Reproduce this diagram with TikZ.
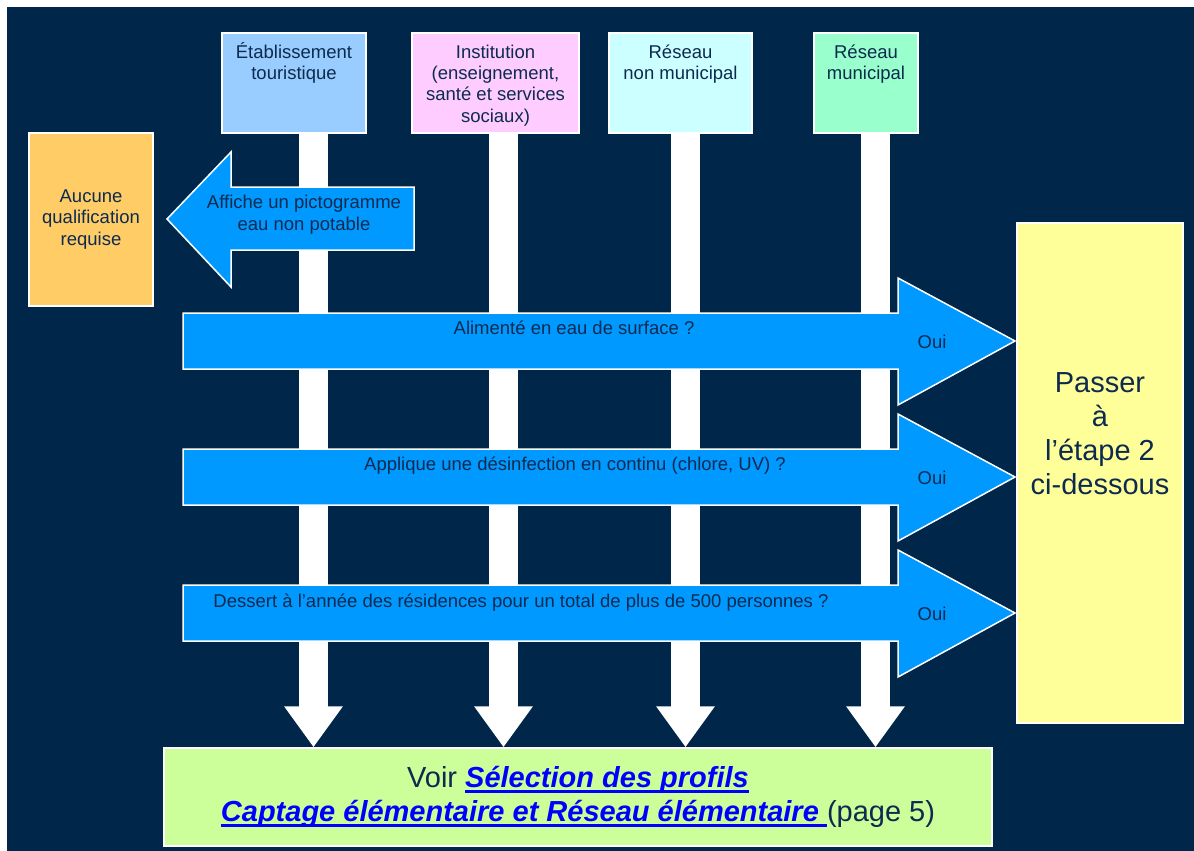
\documentclass[tikz,border=0pt]{standalone}
\usepackage{fontspec}
\setmainfont{Liberation Sans}
\usepackage{xcolor}
\usepackage{tikz}
\usetikzlibrary{arrows.meta,positioning,calc}
\definecolor{fond}{HTML}{00264A}
\definecolor{encre}{HTML}{0D2A4F}
\definecolor{bleufl}{HTML}{0099FF}
\definecolor{tourbg}{HTML}{99CCFF}
\definecolor{instbg}{HTML}{FFCCFF}
\definecolor{nonmunbg}{HTML}{CCFFFF}
\definecolor{munbg}{HTML}{99FFCC}
\definecolor{orangebg}{HTML}{FFCC66}
\definecolor{jaunebg}{HTML}{FFFF99}
\definecolor{vertbg}{HTML}{CCFF99}
\definecolor{lien}{HTML}{0000FF}
% lien souligne (gras italique bleu)
\newcommand{\lienvoir}[1]{{\color{lien}\bfseries\itshape\setbox0=\hbox{#1}\rlap{\rule[-5pt]{\wd0}{2.6pt}}\box0}}

\begin{document}
\begin{tikzpicture}[x=1pt,y=-1pt,
  boite/.style={draw=white,line width=1.5pt,inner sep=0pt},
  txt/.style={font=\fontsize{18.5}{21.3}\selectfont,text=encre,align=center,
              inner sep=0pt,anchor=base},
  grand/.style={font=\fontsize{29}{34}\selectfont,text=encre,align=center,inner sep=0pt},
  bar/.style={white,line width=29pt,-{Triangle[length=41pt 0 0,width=56pt 0 0]}},
  fl/.style={fill=bleufl,draw=white,line width=1.5pt,line join=miter}]
\useasboundingbox (0,0) rectangle (1194,851);
\fill[white] (0,0) rectangle (1194,851);
\fill[fond] (7,7) rectangle (1194,851);
% categories (base = derniere ligne)
\node[boite,fill=tourbg,minimum width=144pt,minimum height=100pt] (tour) at (294,83) {};
\node[boite,fill=instbg,minimum width=167pt,minimum height=100pt] (inst) at (495.5,83) {};
\node[boite,fill=nonmunbg,minimum width=143pt,minimum height=100pt] (nonmun) at (680.5,83) {};
\node[boite,fill=munbg,minimum width=104pt,minimum height=100pt] (mun) at (866,83) {};
\node[txt] (tourt) at (294,79.3) {Établissement\\touristique};
\node[txt] (instt) at (495.5,122) {Institution\\(enseignement,\\santé et services\\sociaux)};
\node[txt] (nonmunt) at (680.5,79.3) {Réseau\\non municipal};
\node[txt] (munt) at (866,79.3) {Réseau\\municipal};
% issues
\node[boite,fill=orangebg,minimum width=124pt,minimum height=173pt,
      font=\fontsize{18.5}{21.3}\selectfont,text=encre,align=center] (aucune) at (91,219.5)
      {Aucune\\qualification\\requise};
\node[boite,fill=jaunebg,minimum width=166pt,minimum height=500pt] (etape) at (1100,473) {};
\node[grand,anchor=base,font=\fontsize{29}{33.7}\selectfont] (etapet) at (1100,494)
      {Passer\\à\\l’étape 2\\ci-dessous};
\node[boite,grand,fill=vertbg,minimum width=828pt,minimum height=98pt] (voir) at (578,797)
      {Voir \lienvoir{Sélection des profils}\\
       \lienvoir{Captage élémentaire et Réseau élémentaire }(page 5)};
% fleches blanches
\coordinate (b1) at ([xshift=19.5pt]tour.south);
\coordinate (b2) at ([xshift=8pt]inst.south);
\coordinate (b3) at ([xshift=5pt]nonmun.south);
\coordinate (b4) at ([xshift=9.5pt]mun.south);
\draw[bar] (b1) -- (b1 |- voir.north);
\draw[bar] (b2) -- (b2 |- voir.north);
\draw[bar] (b3) -- (b3 |- voir.north);
\draw[bar] (b4) -- (b4 |- voir.north);
% fleches bleues
\draw[fl] (414,187) -- (231,187) -- (231,152) -- (167,219) -- (231,287) -- (231,250) -- (414,250) -- cycle;
\node[txt] (picto) at (304,230) {Affiche un pictogramme\\eau non potable};
\draw[fl] (183,313) -- (898,313) -- (898,278) -- (1015,341) -- (898,405) -- (898,369) -- (183,369) -- cycle;
\draw[fl] (183,449) -- (898,449) -- (898,414) -- (1015,477) -- (898,541) -- (898,505) -- (183,505) -- cycle;
\draw[fl] (183,585) -- (898,585) -- (898,550) -- (1015,613) -- (898,677) -- (898,641) -- (183,641) -- cycle;
\node[txt] (q1) at (574,334) {Alimenté en eau de surface ?};
\node[txt] (q2) at (575,470) {Applique une désinfection en continu (chlore, UV) ?};
\node[txt] (q3) at (521,607) {Dessert à l’année des résidences pour un total de plus de 500 personnes ?};
\node[txt] (oui1) at (932,348) {Oui};
\node[txt] (oui2) at (932,484) {Oui};
\node[txt] (oui3) at (932,620) {Oui};
\end{tikzpicture}
\end{document}
